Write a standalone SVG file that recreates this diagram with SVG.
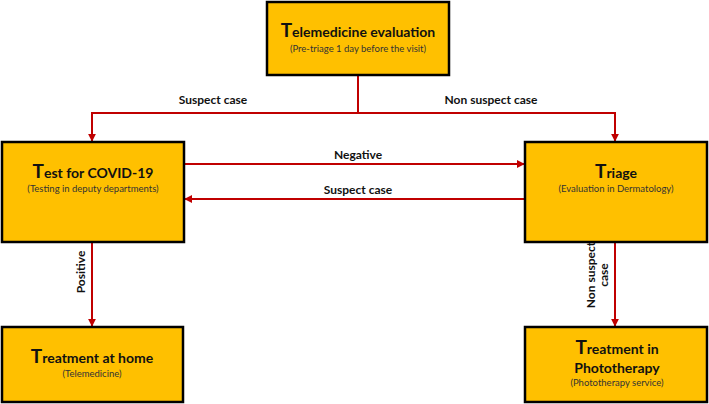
<svg xmlns="http://www.w3.org/2000/svg" width="709" height="404" viewBox="0 0 709 404">
<style>
.box{fill:#FFC000;stroke:#000;stroke-width:2.5}
.t{font-family:Lato,"Liberation Sans",sans-serif;font-weight:bold;font-size:14px;fill:#111;text-anchor:middle}
.big{font-size:19px}
.s{font-family:Lato,"Liberation Sans",sans-serif;font-size:9.5px;fill:#333;text-anchor:middle}
.l{font-family:Lato,"Liberation Sans",sans-serif;font-weight:bold;font-size:12px;fill:#111;text-anchor:middle}
.c{fill:none;stroke:#C00000;stroke-width:2;marker-end:url(#ah)}
.c0{fill:none;stroke:#C00000;stroke-width:2}
</style>
<defs>
<marker id="ah" viewBox="0 0 10 10" refX="9" refY="5" markerWidth="4" markerHeight="4" orient="auto" markerUnits="strokeWidth">
<path d="M0,0 L10,5 L0,10 z" fill="#C00000"/>
</marker>
</defs>
<rect width="709" height="404" fill="#fff"/>
<g id="connectors">
<path class="c0" d="M358,76 V113"/>
<path class="c" d="M358,113 H92 V141"/>
<path class="c" d="M358,113 H615 V141"/>
<path class="c" d="M185,164 H524"/>
<path class="c" d="M524,199 H185"/>
<path class="c" d="M92,243 V326"/>
<path class="c" d="M615,243 V326"/>
<text class="l" x="213" y="104">Suspect case</text>
<text class="l" x="491" y="104">Non suspect case</text>
<text class="l" x="358" y="159">Negative</text>
<text class="l" x="358" y="194">Suspect case</text>
<text class="l" transform="translate(85,272) rotate(-90)">Positive</text>
<text class="l" transform="translate(595,275) rotate(-90)">Non suspect</text>
<text class="l" transform="translate(608,275) rotate(-90)">case</text>
</g>
<g id="telemedicine">
<rect class="box" x="267" y="2" width="182" height="73"/>
<text class="t" x="358" y="37"><tspan class="big">T</tspan>elemedicine evaluation</text>
<text class="s" x="358" y="52">(Pre-triage 1 day before the visit)</text>
</g>
<g id="test">
<rect class="box" x="2" y="142" width="182" height="100"/>
<text class="t" x="93" y="178"><tspan class="big">T</tspan>est for COVID-19</text>
<text class="s" x="93" y="192">(Testing in deputy departments)</text>
</g>
<g id="triage">
<rect class="box" x="525" y="142" width="182" height="100"/>
<text class="t" x="616" y="178"><tspan class="big">T</tspan>riage</text>
<text class="s" x="616" y="192">(Evaluation in Dermatology)</text>
</g>
<g id="home">
<rect class="box" x="2" y="327" width="181" height="75"/>
<text class="t" x="92" y="363"><tspan class="big">T</tspan>reatment at home</text>
<text class="s" x="92" y="377">(Telemedicine)</text>
</g>
<g id="phototherapy">
<rect class="box" x="525" y="327" width="182" height="75"/>
<text class="t" x="617" y="354"><tspan class="big">T</tspan>reatment  in</text>
<text class="t" x="617" y="373">Phototherapy</text>
<text class="s" x="617" y="386">(Phototherapy service)</text>
</g>
</svg>
